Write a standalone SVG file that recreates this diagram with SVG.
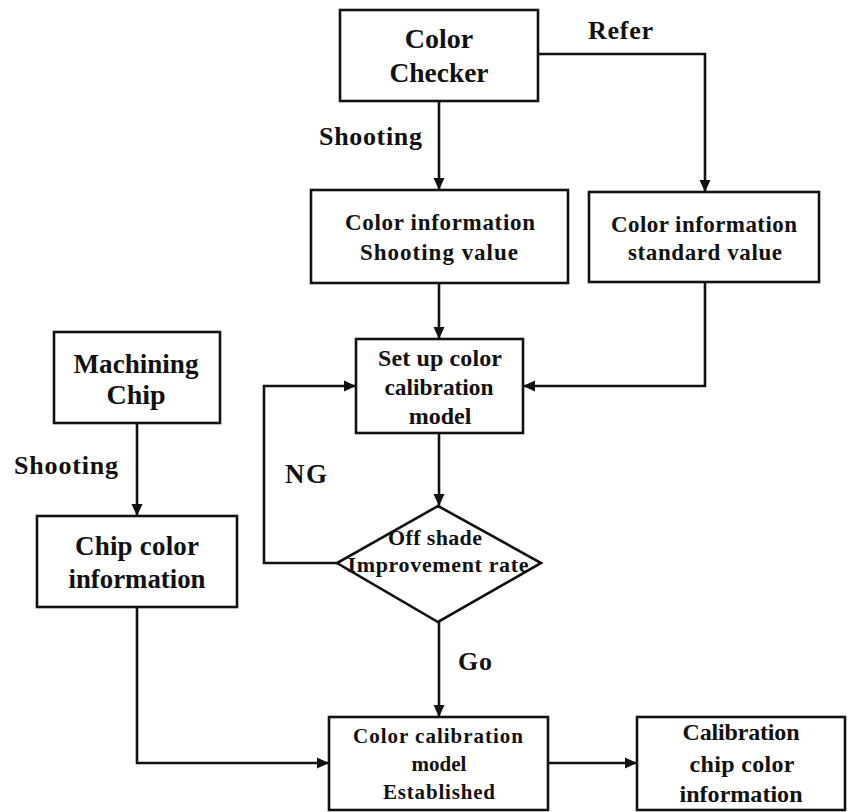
<svg xmlns="http://www.w3.org/2000/svg" width="848" height="812" viewBox="0 0 848 812">
<defs>
<marker id="arr" markerUnits="userSpaceOnUse" markerWidth="14" markerHeight="14" viewBox="0 0 14 14" refX="13" refY="7" orient="auto">
<path d="M1,1.5 L13,7 L1,12.5 Z" fill="#111"/>
</marker>
<style>
.box{fill:#fff;stroke:#111;stroke-width:2.6}
.ln{fill:none;stroke:#111;stroke-width:2.6;marker-end:url(#arr)}
text{font-family:"Liberation Serif","Times New Roman",serif;font-weight:bold;fill:#111;text-anchor:middle}
.lbl{text-anchor:start}
</style>
</defs>
<rect width="848" height="812" fill="#fff"/>
<g id="connectors">
<path class="ln" d="M439,101 V190"/>
<path class="ln" d="M538,54 H705 V192"/>
<path class="ln" d="M439,283 V339"/>
<path class="ln" d="M705,282 V386 H523"/>
<path class="ln" d="M439,433 V506"/>
<path class="ln" d="M337,563 H264 V386 H356"/>
<path class="ln" d="M439,622 V717"/>
<path class="ln" d="M137,423 V516"/>
<path class="ln" d="M137,607 V763 H329"/>
<path class="ln" d="M548,763 H637"/>
</g>
<g id="labels">
<text class="lbl" x="588" y="39" font-size="26" textLength="65" lengthAdjust="spacing">Refer</text>
<text class="lbl" x="319" y="145" font-size="26" textLength="103" lengthAdjust="spacing">Shooting</text>
<text class="lbl" x="14" y="474" font-size="26" textLength="104" lengthAdjust="spacing">Shooting</text>
<text class="lbl" x="285" y="483" font-size="27" textLength="42" lengthAdjust="spacing">NG</text>
<text class="lbl" x="458" y="670" font-size="26" textLength="34" lengthAdjust="spacing">Go</text>
</g>
<g id="color-checker">
<rect class="box" x="340" y="10" width="198" height="91"/>
<text x="439" y="48" font-size="28">Color</text>
<text x="439" y="82" font-size="28" textLength="99" lengthAdjust="spacingAndGlyphs">Checker</text>
</g>
<g id="shooting-value">
<rect class="box" x="311" y="190" width="257" height="93"/>
<text x="440" y="230" font-size="23" textLength="190" lengthAdjust="spacing">Color information</text>
<text x="439" y="260" font-size="23" textLength="158" lengthAdjust="spacing">Shooting value</text>
</g>
<g id="standard-value">
<rect class="box" x="589" y="192" width="230" height="90"/>
<text x="704" y="232" font-size="23" textLength="186" lengthAdjust="spacing">Color information</text>
<text x="705" y="260" font-size="23" textLength="154" lengthAdjust="spacing">standard value</text>
</g>
<g id="machining-chip">
<rect class="box" x="54" y="332" width="166" height="91"/>
<text x="136" y="373" font-size="28" textLength="125" lengthAdjust="spacingAndGlyphs">Machining</text>
<text x="136" y="404" font-size="28">Chip</text>
</g>
<g id="chip-color-info">
<rect class="box" x="37" y="516" width="200" height="91"/>
<text x="137" y="555" font-size="27" textLength="124" lengthAdjust="spacing">Chip color</text>
<text x="137" y="588" font-size="27" textLength="137" lengthAdjust="spacingAndGlyphs">information</text>
</g>
<g id="setup-model">
<rect class="box" x="356" y="339" width="167" height="94"/>
<text x="440" y="366" font-size="24" textLength="124" lengthAdjust="spacing">Set up color</text>
<text x="439" y="395" font-size="24" textLength="109" lengthAdjust="spacingAndGlyphs">calibration</text>
<text x="440" y="424" font-size="24">model</text>
</g>
<g id="decision">
<polygon class="box" points="438,506 541,563 438,622 337,563"/>
<text x="435" y="545" font-size="22" textLength="94" lengthAdjust="spacing">Off shade</text>
<text x="438" y="572" font-size="22" textLength="181" lengthAdjust="spacing">Improvement rate</text>
</g>
<g id="model-established">
<rect class="box" x="329" y="717" width="219" height="93"/>
<text x="438" y="743" font-size="21" textLength="170" lengthAdjust="spacing">Color calibration</text>
<text x="439" y="771" font-size="21">model</text>
<text x="439" y="799" font-size="21" textLength="112" lengthAdjust="spacing">Established</text>
</g>
<g id="calibrated-info">
<rect class="box" x="637" y="717" width="208" height="93"/>
<text x="741" y="740" font-size="24" textLength="117" lengthAdjust="spacing">Calibration</text>
<text x="742" y="772" font-size="24" textLength="105" lengthAdjust="spacing">chip color</text>
<text x="741" y="802" font-size="24" textLength="123" lengthAdjust="spacing">information</text>
</g>
</svg>
